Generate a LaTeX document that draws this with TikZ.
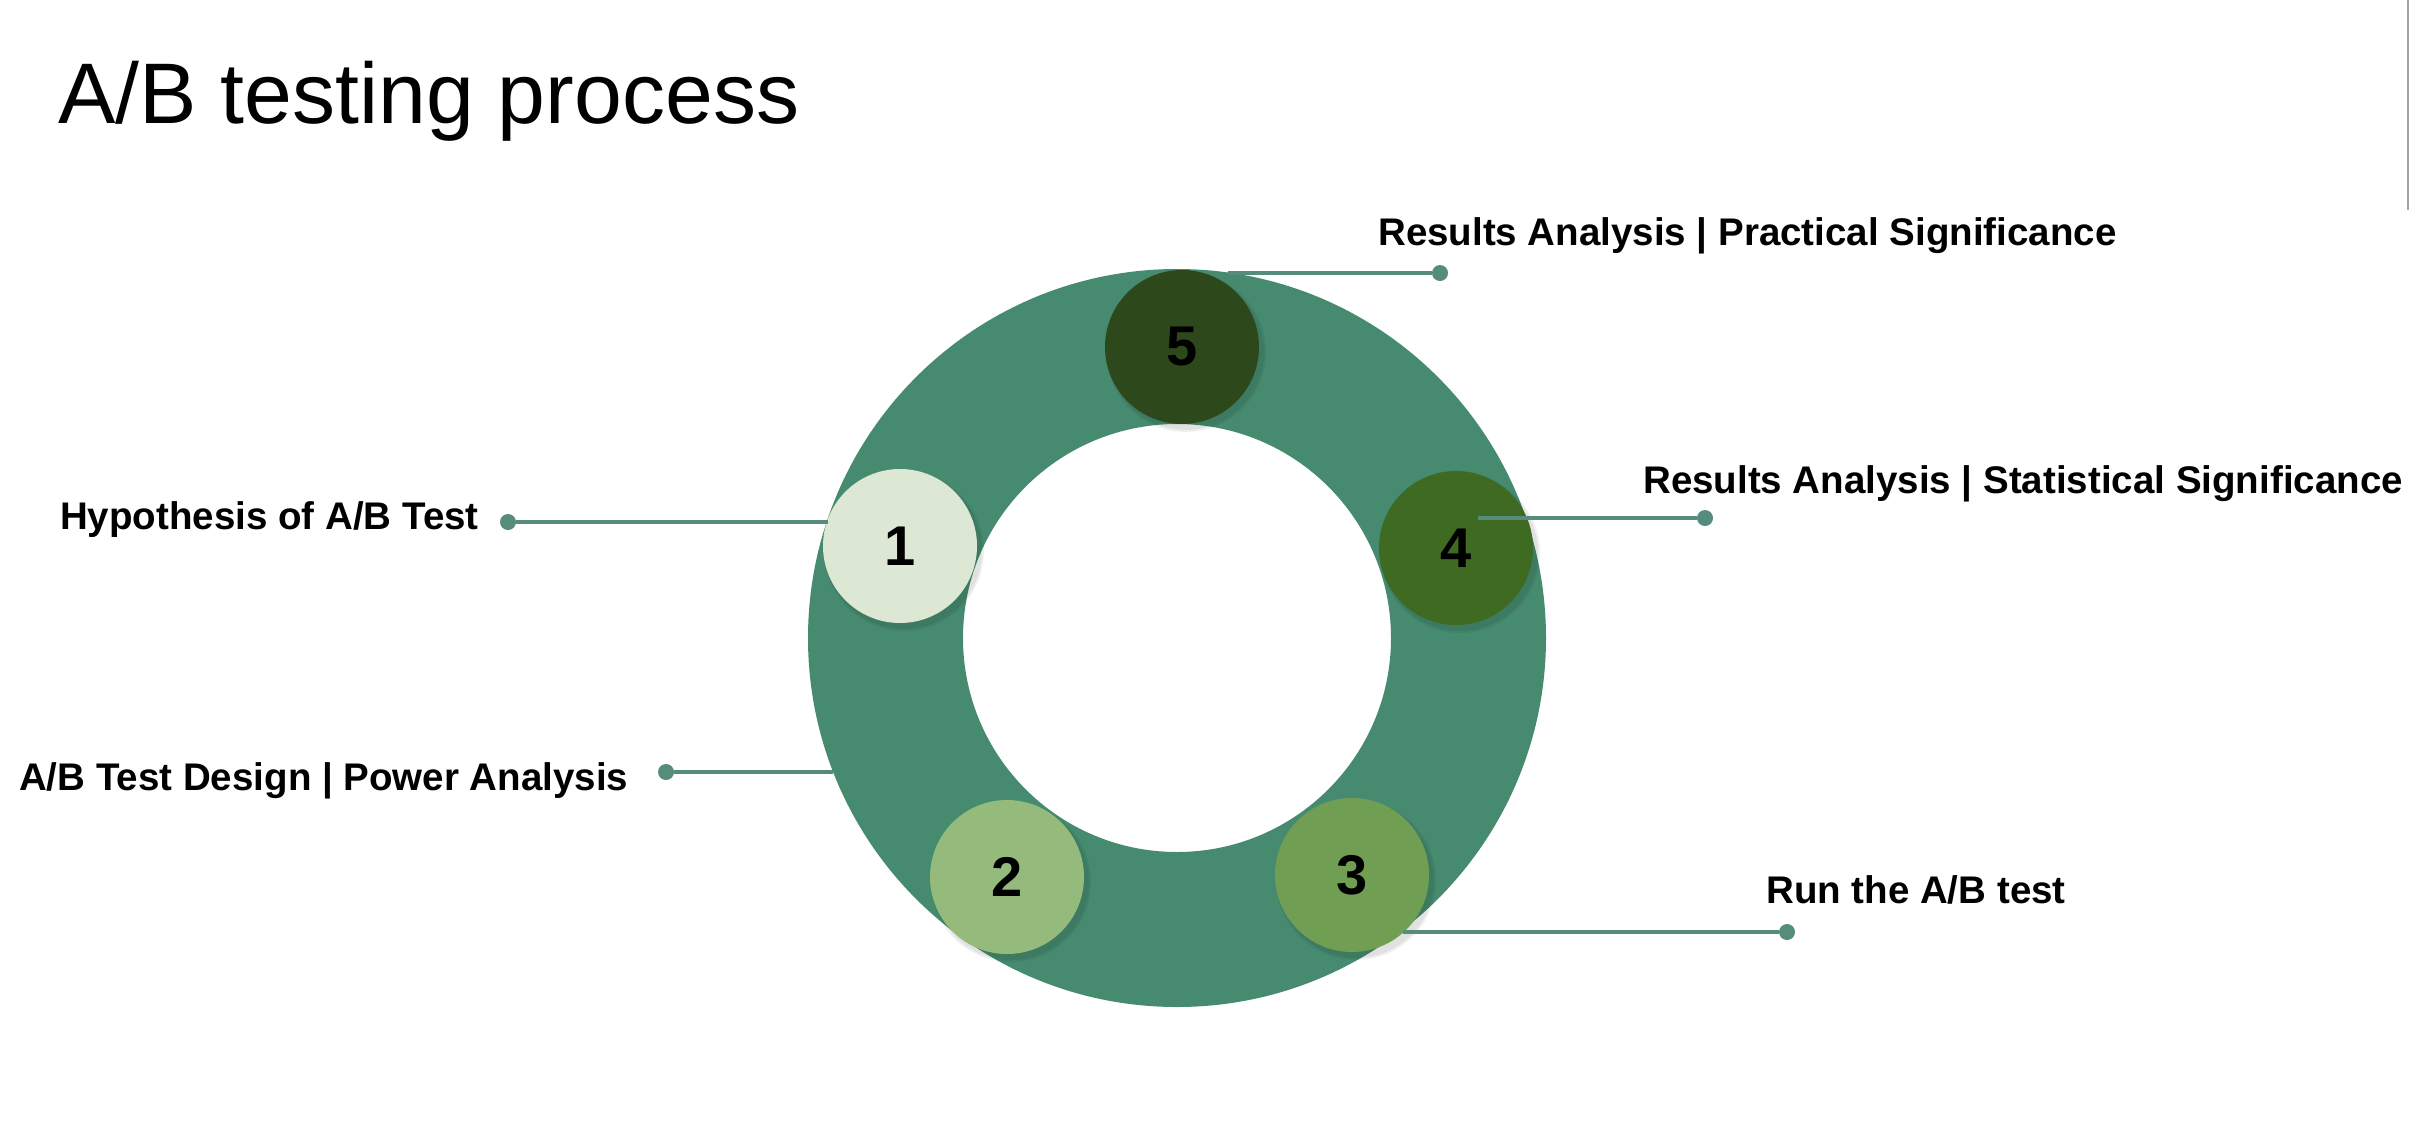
\documentclass[tikz,border=0pt]{standalone}
\usepackage{fontspec}
\setmainfont{Liberation Sans}
\definecolor{ringcol}{RGB}{70,139,112}
\definecolor{linecol}{RGB}{86,140,124}
\definecolor{cone}{RGB}{220,232,212}
\definecolor{ctwo}{RGB}{148,187,124}
\definecolor{cthree}{RGB}{112,158,82}
\definecolor{cfour}{RGB}{62,106,34}
\definecolor{cfive}{RGB}{45,72,26}
\tikzset{
  num/.style={circle, minimum size=154pt, inner sep=0pt, font=\fontsize{56}{60}\selectfont\bfseries, text=black},
  shade5/.style={fill=black, opacity=0.06},
  lbl/.style={anchor=base west, inner sep=0pt, font=\fontsize{38.5}{44}\selectfont\bfseries, text=black},
  dotnode/.style={circle, fill=linecol, minimum size=16pt, inner sep=0pt},
  conn/.style={draw=linecol, line width=4pt}
}
\begin{document}
\begin{tikzpicture}[x=1pt,y=-1pt]
\useasboundingbox (0,0) rectangle (2410,1144);
\fill[white] (0,0) rectangle (2410,1144);
\draw[gray!70, line width=2pt] (2408,0) -- (2408,210);
% title
\node[anchor=base west, inner sep=0pt, font=\fontsize{86}{100}\selectfont] (title) at (58,123) {A/B testing process};
% ring
\fill[ringcol, even odd rule] (1177,638) circle[radius=369] (1177,638) circle[radius=214];
% soft shadows
\foreach \p in {(904,551),(1011,882),(1356,880),(1460,553),(1186,352)}{
  \fill[shade5] \p circle[radius=80];
  \fill[shade5] \p circle[radius=78];}
% step circles
\node[num, fill=cone] (c1) at (900,546) {1};
\node[num, fill=ctwo] (c2) at (1007,877) {2};
\node[num, fill=cthree] (c3) at (1352,875) {3};
\node[num, fill=cfour] (c4) at (1456,548) {4};
\node[num, fill=cfive] (c5) at (1182,347) {5};
% connector endpoints
\coordinate (e1) at (828,522);
\coordinate (e2) at (833,772);
\coordinate (e3) at (1403,932);
\coordinate (e4) at (1478,518);
\coordinate (e5) at (1228,273);
% dots
\node[dotnode] (d1) at (508,522) {};
\node[dotnode] (d2) at (666,772) {};
\node[dotnode] (d3) at (1787,932) {};
\node[dotnode] (d4) at (1705,518) {};
\node[dotnode] (d5) at (1440,273) {};
% connectors
\draw[conn] (d1) -- (e1);
\draw[conn] (d2) -- (e2);
\draw[conn] (e3) -- (d3);
\draw[conn] (e4) -- (d4);
\draw[conn] (e5) -- (d5);
% labels
\node[lbl] (l1) at (60,529) {Hypothesis of A/B Test};
\node[lbl] (l2) at (19,790) {A/B Test Design | Power Analysis};
\node[lbl] (l3) at (1766,903) {Run the A/B test};
\node[lbl] (l4) at (1643,493) {Results Analysis | Statistical Significance};
\node[lbl] (l5) at (1378,245) {Results Analysis | Practical Significance};
\end{tikzpicture}
\end{document}
